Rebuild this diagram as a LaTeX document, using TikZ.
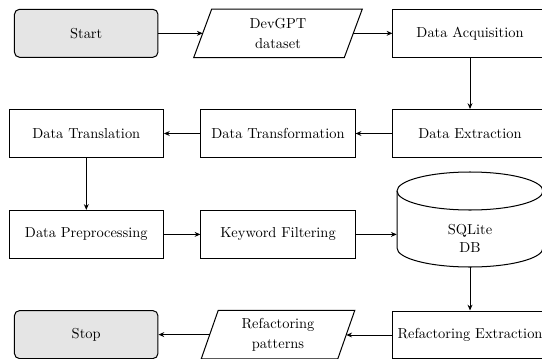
\documentclass[tikz,border=0pt]{standalone}
\usetikzlibrary{arrows.meta,calc}
\begin{document}
\begin{tikzpicture}[x=0.692pt,y=0.692pt,
  line/.style={line width=0.7pt},
  arr/.style={line, -{Stealth[length=4pt,width=3.4pt]}},
  procbox/.style={draw, line, rectangle, minimum width=106.7pt, minimum height=33.2pt, inner sep=1pt, font=\normalsize},
  termbox/.style={draw, line, rectangle, rounded corners=3.5pt, fill=gray!20, minimum width=99.3pt, minimum height=33.2pt, inner sep=1pt},
  iobox/.style={rectangle, minimum height=33.2pt, inner sep=1pt, align=center},
  dbbody/.style={rectangle, minimum width=101pt, minimum height=65.7pt, inner sep=0pt},
]
\useasboundingbox (0,0) rectangle (542,-358);

% row 1
\node[termbox] (start) at (86.2,-33.3) {Start};
\node[iobox, minimum width=103.8pt] (dev) at (278,-33.3) {DevGPT\\[2pt]dataset};
\draw[line] ($(dev.south west)+(-9,0)$) -- ($(dev.north west)+(9,0)$) -- ($(dev.north east)+(9,0)$) -- ($(dev.south east)+(-9,0)$) -- cycle;
\node[procbox] (acq) at (470,-33.3) {Data Acquisition};

% row 2
\node[procbox] (trl) at (86.3,-133.5) {Data Translation};
\node[procbox] (trf) at (278,-133.5) {Data Transformation};
\node[procbox] (ext) at (470,-133.5) {Data Extraction};

% row 3
\node[procbox] (pre) at (86.3,-234.4) {Data Preprocessing};
\node[procbox] (kw) at (278,-234.4) {Keyword Filtering};
\node[dbbody] (db) at (470,-219.5) {};
\draw[line] (397,-191) -- (397,-248) arc[start angle=180,end angle=360,x radius=73,y radius=19] -- (543,-191);
\draw[line] (470,-191) ellipse [x radius=73, y radius=19];
\node[align=center, inner sep=0pt] (dbtext) at (470,-238.5) {SQLite\\DB};

% row 4
\node[termbox] (stop) at (86.2,-334.6) {Stop};
\node[iobox, minimum width=94.1pt] (pat) at (278,-334.6) {Refactoring\\[2pt]patterns};
\draw[line] ($(pat.south west)+(-8.5,0)$) -- ($(pat.north west)+(8.5,0)$) -- ($(pat.north east)+(8.5,0)$) -- ($(pat.south east)+(-8.5,0)$) -- cycle;
\node[procbox] (rex) at (470,-335) {Refactoring Extraction};

% connectors
\draw[arr] (start) -- (dev);
\draw[arr] (dev) -- (acq);
\draw[arr] (acq) -- (ext);
\draw[arr] (ext) -- (trf);
\draw[arr] (trf) -- (trl);
\draw[arr] (trl) -- (pre);
\draw[arr] (pre) -- (kw);
\draw[arr] (kw.east) -- (kw.east -| db.west);
\draw[arr] (db.south) -- (rex.north);
\draw[arr] (rex.west) -- (rex.west -| pat.east);
\draw[arr] (pat) -- (stop);
\end{tikzpicture}
\end{document}
